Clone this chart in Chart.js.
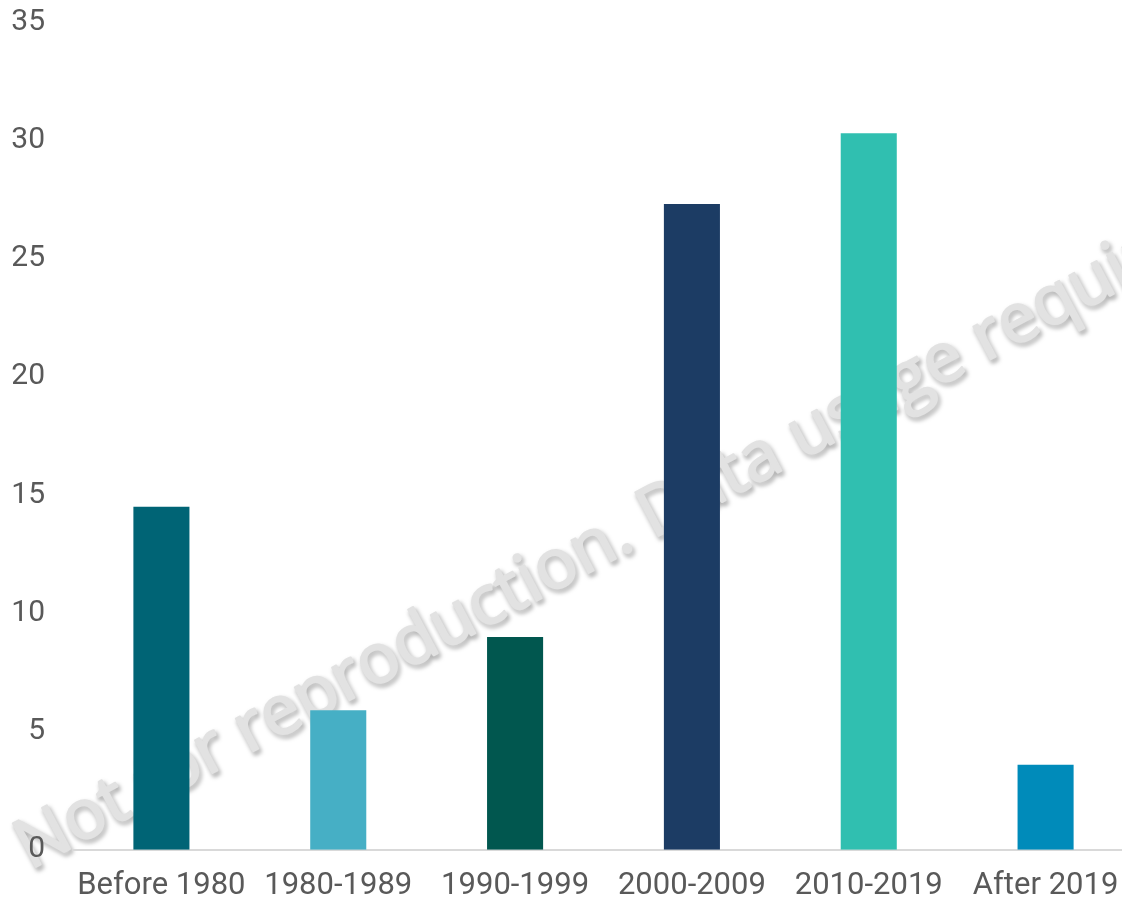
<!DOCTYPE html>
<html>
<head>
<meta charset="utf-8">
<script src="https://cdn.jsdelivr.net/npm/chart.js@4"></script>
<style>
  html, body { margin:0; padding:0; background:#fff; overflow:hidden; }
  #wrap { width:1134px; height:905px; position:relative; }
</style>
</head>
<body>
<div id="wrap"><canvas id="chart"></canvas></div>
<script>
// data
const periods = ['Before 1980', '1980-1989', '1990-1999', '2000-2009', '2010-2019', 'After 2019'];
const shares = [14.5, 5.9, 9.0, 27.3, 30.3, 3.6];
const barColors = ['#006475', '#46afc5', '#01574f', '#1c3c64', '#30bfb0', '#008bba'];
const yTicks = [0, 5, 10, 15, 20, 25, 30, 35];
const watermark = 'Not for reproduction. Data usage required';

const textGray = '#595959';

// watermark sits behind the bars and axis labels in the reference
const stamp = {
  id: 'stamp',
  beforeDraw(chart){
    const ctx = chart.ctx;
    ctx.save();
    ctx.translate(30, 870);
    ctx.rotate(-28 * Math.PI / 180);
    ctx.font = '69px "Open Sans", sans-serif';
    ctx.textBaseline = 'alphabetic';
    ctx.shadowColor = 'rgba(0,0,0,0.5)';
    ctx.shadowBlur = 4;
    ctx.shadowOffsetX = 2;
    ctx.shadowOffsetY = 3;
    ctx.fillStyle = '#e2e2e2';
    ctx.strokeStyle = '#e2e2e2';
    ctx.lineWidth = 2;
    ctx.lineJoin = 'round';
    ctx.strokeText(watermark, 0, 0);
    ctx.shadowColor = 'transparent';
    ctx.fillText(watermark, 0, 0);
    ctx.restore();
  }
};

new Chart(document.getElementById('chart'), {
  type: 'bar',
  data: {
    labels: periods,
    datasets: [{ data: shares, backgroundColor: barColors, barPercentage: 0.317, categoryPercentage: 1 }]
  },
  options: {
    responsive: true,
    maintainAspectRatio: false,
    animation: false,
    layout: { padding: { top: 22, right: 0, left: 12, bottom: -18 } },
    plugins: { legend: { display: false }, tooltip: { enabled: false } },
    scales: {
      x: {
        grid: { display: false, drawTicks: false },
        border: { display: true, color: '#d9d9d9', width: 2 },
        ticks: { color: textGray, font: { family: 'Roboto', size: 31 }, padding: 18, maxRotation: 0, autoSkip: false },
        afterFit(axis){ axis.paddingLeft = 0; axis.paddingRight = 0; }
      },
      y: {
        min: 0, max: 35,
        afterBuildTicks(axis){ axis.ticks = yTicks.map(v => ({ value: v })); },
        grid: { display: false, drawTicks: false },
        border: { display: false },
        ticks: { color: textGray, font: { family: 'Roboto', size: 30 }, padding: 28 },
        afterFit(axis){ axis.paddingTop = 18; axis.paddingBottom = 18; axis.width = 61; }
      }
    }
  },
  plugins: [stamp]
});
</script>
</body>
</html>
